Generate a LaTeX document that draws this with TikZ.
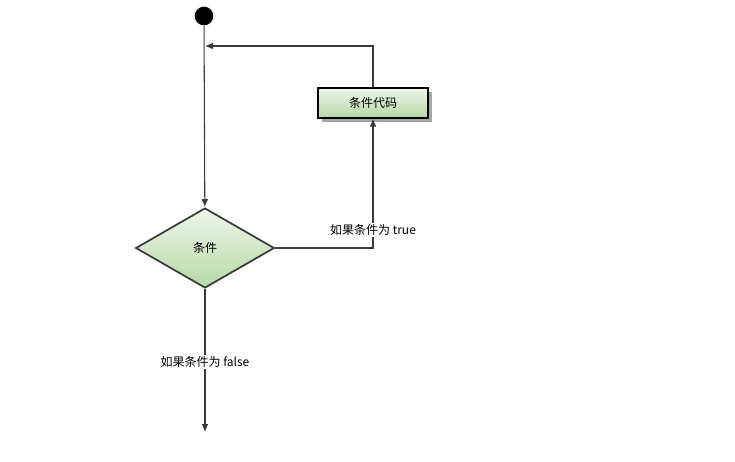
\documentclass[tikz,border=0pt]{standalone}
\usepackage{fontspec}
\setmainfont{Noto Sans CJK SC}
\usetikzlibrary{shapes.geometric,shadows,arrows.meta}
\definecolor{lightgreen}{HTML}{EEF6EA}
\definecolor{midgreen}{HTML}{B5D9A6}
\definecolor{linegray}{HTML}{3A3A3A}

\begin{document}
\begin{tikzpicture}[
    x=0.75pt, y=-0.75pt,
    every node/.style={font=\fontsize{9}{11}\selectfont},
    decision/.style={diamond, draw=linegray, line width=1.3pt, top color=lightgreen, bottom color=midgreen,
        minimum width=104pt, minimum height=60pt, inner sep=0pt},
    action/.style={rectangle, draw=black, line width=1.5pt, top color=lightgreen, bottom color=midgreen,
        minimum width=82pt, minimum height=22pt,
        drop shadow={shadow xshift=3pt, shadow yshift=-3pt, fill=black!35, opacity=1}},
    guard/.style={fill=white, inner sep=1pt},
    flow/.style={draw=linegray, line width=0.8pt, -{Latex[length=6pt,width=5pt]}}
]
\useasboundingbox (0,0) rectangle (735,461);

\node[circle, fill=black, minimum size=14pt, inner sep=0pt] (start) at (204,16) {};
\node[decision] (cond) at (205,248) {条件};
\node[action] (code) at (373,103) {条件代码};
\coordinate (merge) at (205,46);
\coordinate (stop) at (205,432);

\draw[flow] (start) -- (cond);
\draw[flow] (cond.east) -| node[guard, pos=0.57] {如果条件为 true} (code.south);
\draw[flow] (code.north) |- (merge);
\draw[flow] (cond.south) -- node[guard, pos=0.51] {如果条件为 false} (stop);
\end{tikzpicture}
\end{document}
